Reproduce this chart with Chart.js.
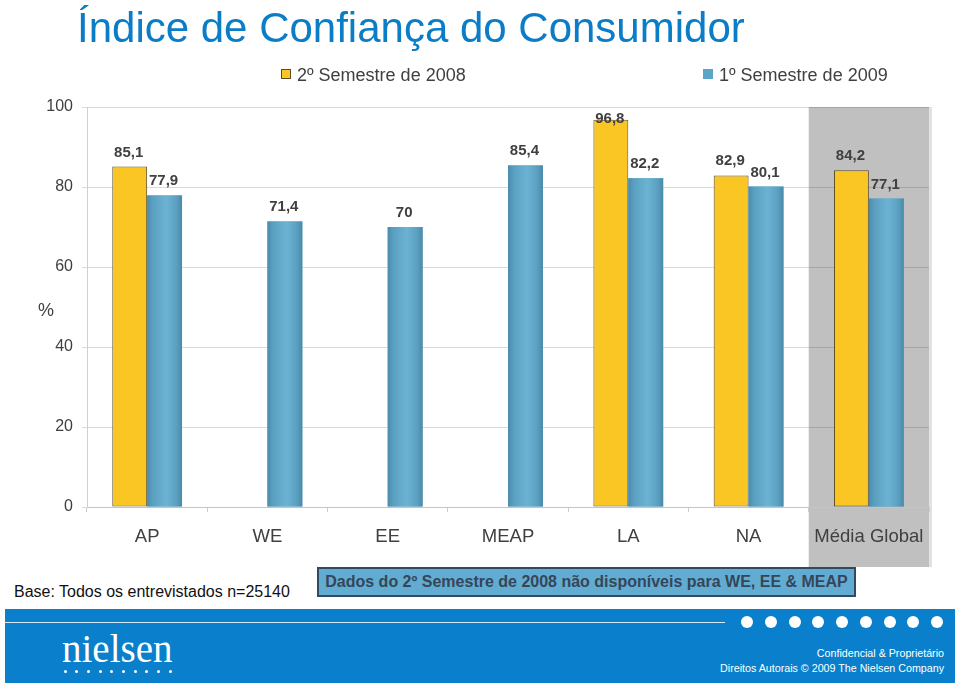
<!DOCTYPE html>
<html lang="pt">
<head>
<meta charset="utf-8">
<title>Índice de Confiança do Consumidor</title>
<script src="https://cdn.jsdelivr.net/npm/chart.js@4.4.1/dist/chart.umd.min.js"></script>
<style>
  body { margin: 0; background: #fff; font-family: "Liberation Sans", Arial, sans-serif; }
  #page { position: relative; width: 960px; height: 686px; overflow: hidden; }
  #chartWrap { position: absolute; left: 0; top: 0; width: 960px; height: 567px; }
  .abs { position: absolute; white-space: nowrap; }
  #title { left: 77px; top: 3px; font-size: 42px; line-height: 50px; color: #0b7dc6; }
  #yTitle { left: 38px; top: 300px; font-size: 18px; line-height: 20px; color: #404040; }
  #base { left: 14px; top: 582px; font-size: 16px; line-height: 20px; color: #111; }
  #note {
    left: 317px; top: 567px; width: 539px; height: 30px; box-sizing: border-box;
    border: 2px solid #2f4a64; background: #62acd2; color: #354659;
    font-weight: bold; font-size: 16px; line-height: 26px; text-align: center;
  }
  #footer { left: 5px; top: 609px; width: 950px; height: 74px; background: #0a80cc; }
  #footer .rule { position: absolute; left: 0; top: 13px; width: 720px; height: 1px; background: #d6eaf7; }
  #footer .dot { position: absolute; border-radius: 50%; background: #fff; }
  #logo { left: 57px; top: 20px; font-family: "Liberation Serif", "DejaVu Serif", serif; font-size: 39px; line-height: 40px; color: #fff; }
  #conf1, #conf2 { right: 11px; font-size: 10.7px; line-height: 16px; color: #fff; }
  #conf1 { top: 36px; }
  #conf2 { top: 51px; }
</style>
</head>
<body>
<div id="page">
  <div id="chartWrap"><canvas id="chart"></canvas></div>
  <div class="abs" id="title">Índice de Confiança do Consumidor</div>
  <div class="abs" id="yTitle">%</div>
  <div class="abs" id="base">Base: Todos os entrevistados n=25140</div>
  <div class="abs" id="note">Dados do 2º Semestre de 2008 não disponíveis para WE, EE &amp; MEAP</div>
  <div class="abs" id="footer">
    <div class="rule"></div>
    <div class="abs" id="logo">nielsen</div>
    <div class="abs" id="conf1">Confidencial &amp; Proprietário</div>
    <div class="abs" id="conf2">Direitos Autorais © 2009 The Nielsen Company</div>
  </div>
</div>

<script>
// --- Data
const categories = ["AP", "WE", "EE", "MEAP", "LA", "NA", "Média Global"];
const seriesLabels = ["2º Semestre de 2008", "1º Semestre de 2009"];
const sem2008 = [85.1, null, null, null, 96.8, 82.9, 84.2];
const sem2009 = [77.9, 71.4, 70, 85.4, 82.2, 80.1, 77.1];
const yMin = 0, yMax = 100, yStep = 20;

const FONT = '"Liberation Sans", Arial, sans-serif';
const YELLOW = "#f9c623";
const BLUE = "#5aa5c8";

// --- Footer decoration (dots)
const footer = document.getElementById("footer");
function addDot(cx, cy, r){
  const d = document.createElement("div");
  d.className = "dot";
  d.style.left = (cx - r) + "px";
  d.style.top = (cy - r) + "px";
  d.style.width = d.style.height = (2 * r) + "px";
  footer.appendChild(d);
}
for (let i = 0; i < 9; i++) addDot(742 + i * 23.75, 13, 6);
for (let i = 0; i < 10; i++) addDot(60 + i * 11.67, 62, 1.5);

// --- Plugins
// grey highlight behind the last category ("Média Global")
const highlightBand = {
  id: "highlightBand",
  beforeDraw(chart){
    const x = chart.scales.x, area = chart.chartArea, ctx = chart.ctx;
    const half = x.width / categories.length / 2;
    const left = x.getPixelForValue(categories.length - 1) - half;
    ctx.save();
    ctx.fillStyle = "#c0c0c0";
    ctx.fillRect(left, area.top, area.right - left, chart.height - area.top);
    ctx.fillStyle = "#e2e2e2";
    ctx.fillRect(area.right, area.top, 3, chart.height - area.top);
    ctx.restore();
  }
};

function fmt(v){ return String(v).replace(".", ","); }

// cylinder-ish shading on blue bars + value labels
const barDecor = {
  id: "barDecor",
  afterDatasetsDraw(chart){
    const ctx = chart.ctx, area = chart.chartArea;
    ctx.save();
    const blueMeta = chart.getDatasetMeta(1);
    blueMeta.data.forEach((el, i) => {
      if (chart.data.datasets[1].data[i] == null) return;
      const { x, y, base, width } = el.getProps(["x", "y", "base", "width"], true);
      const g = ctx.createLinearGradient(x - width / 2, 0, x + width / 2, 0);
      g.addColorStop(0, "#4a8bab");
      g.addColorStop(0.15, "#5a9fc0");
      g.addColorStop(0.55, "#6cb3d3");
      g.addColorStop(0.85, "#5a9fc0");
      g.addColorStop(1, "#4a89a7");
      ctx.fillStyle = g;
      ctx.fillRect(x - width / 2, y, width, base - y);
    });

    ctx.font = "bold 15px " + FONT;
    ctx.fillStyle = "#404040";
    ctx.textAlign = "center";
    ctx.textBaseline = "alphabetic";
    chart.data.datasets.forEach((ds, di) => {
      chart.getDatasetMeta(di).data.forEach((el, i) => {
        const v = ds.data[i];
        if (v == null) return;
        const { x, y } = el.getProps(["x", "y"], true);
        const by = Math.max(y - 10, area.top + 16);
        ctx.fillText(fmt(v), x - 1, by);
      });
    });
    ctx.restore();
  }
};

// legend spread across the top like the original slide
const topLegend = {
  id: "topLegend",
  afterDraw(chart){
    const ctx = chart.ctx;
    const swatchX = [281, 703];
    ctx.save();
    ctx.font = "18px " + FONT;
    ctx.textBaseline = "alphabetic";
    ctx.textAlign = "left";
    chart.data.datasets.forEach((ds, i) => {
      const x = swatchX[i];
      ctx.fillStyle = ds.legendColor;
      ctx.fillRect(x, 69, 10, 10);
      if (ds.borderWidth){
        ctx.strokeStyle = ds.borderColor;
        ctx.lineWidth = 1;
        ctx.strokeRect(x + 0.5, 69.5, 9, 9);
      }
      ctx.fillStyle = "#404040";
      ctx.fillText(ds.label, x + 16, 81);
    });
    ctx.restore();
  }
};

// --- Chart
new Chart(document.getElementById("chart"), {
  type: "bar",
  data: {
    labels: categories,
    datasets: [
      {
        label: seriesLabels[0], data: sem2008,
        backgroundColor: YELLOW, legendColor: YELLOW,
        borderColor: "#5e4d28", borderWidth: 1, borderSkipped: false,
        categoryPercentage: 0.58, barPercentage: 1
      },
      {
        label: seriesLabels[1], data: sem2009,
        backgroundColor: BLUE, legendColor: BLUE,
        borderWidth: 0,
        categoryPercentage: 0.58, barPercentage: 1
      }
    ]
  },
  options: {
    responsive: true,
    maintainAspectRatio: false,
    animation: false,
    layout: { padding: { top: 107, left: 0, right: 31, bottom: 0 } },
    plugins: { legend: { display: false }, tooltip: { enabled: false } },
    scales: {
      x: {
        grid: { drawOnChartArea: false, drawTicks: true, tickLength: 5, color: "#cccccc", offset: true },
        border: { color: "#c4c4c4" },
        ticks: { color: "#404040", font: { family: FONT, size: 18.5 }, padding: 14, maxRotation: 0, autoSkip: false },
        afterFit: s => { s.height = 60; }
      },
      y: {
        min: yMin, max: yMax,
        ticks: { stepSize: yStep, color: "#404040", font: { family: FONT, size: 16 }, padding: 9 },
        grid: { color: "rgba(0,0,0,0.14)", tickLength: 5 },
        border: { color: "#d0d0d0" },
        afterFit: s => { s.width = 87; }
      }
    }
  },
  plugins: [highlightBand, barDecor, topLegend]
});
</script>
</body>
</html>
